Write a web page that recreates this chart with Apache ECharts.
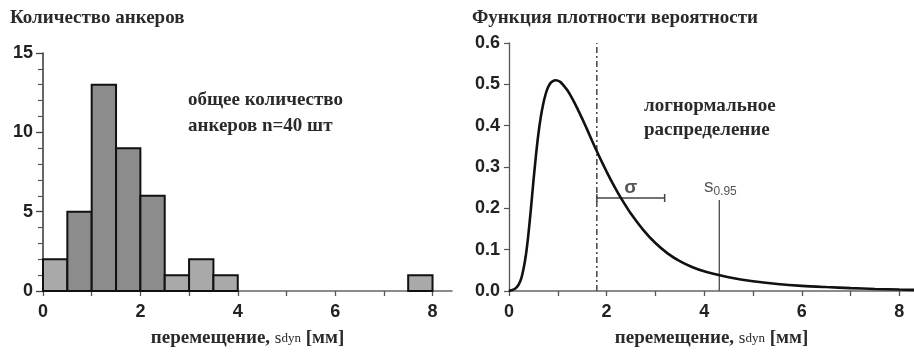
<!DOCTYPE html>
<html><head><meta charset="utf-8">
<script src="https://cdn.jsdelivr.net/npm/echarts@6/dist/echarts.min.js"></script>
<style>html,body{margin:0;padding:0;background:#fff}#c{width:914px;height:353px}</style>
</head><body><div id="c"></div>
<script>
// Histogram (left)
const binStart = [0, 0.5, 1, 1.5, 2, 2.5, 3, 3.5, 7.5];
const binEnd   = [0.5, 1, 1.5, 2, 2.5, 3, 3.5, 4, 8];
const counts   = [2, 5, 13, 9, 6, 1, 2, 1, 1];
const histXLabels = [0, 2, 4, 6, 8];
const histXTicks  = [0, 1, 2, 3, 4, 5, 6, 7, 8];

// Probability density (right)
const curveX = [0, 0.05, 0.1, 0.15, 0.2, 0.25, 0.3, 0.35, 0.4, 0.45, 0.5, 0.55, 0.6, 0.65, 0.7, 0.75, 0.8, 0.85, 0.9, 0.95, 1.0, 1.05, 1.1, 1.2, 1.3, 1.4, 1.5, 1.6, 1.7, 1.8, 1.9, 2.0, 2.1, 2.25, 2.4, 2.5, 2.75, 3.0, 3.25, 3.5, 3.75, 4.0, 4.3, 4.5, 4.75, 5.0, 5.5, 6.0, 6.5, 7.0, 7.5, 8.0, 8.3];
const curveY = [0, 0.002, 0.004, 0.008, 0.016, 0.03, 0.055, 0.09, 0.14, 0.2, 0.265, 0.325, 0.378, 0.42, 0.452, 0.476, 0.493, 0.503, 0.508, 0.51, 0.509, 0.506, 0.5, 0.485, 0.465, 0.442, 0.417, 0.391, 0.364, 0.338, 0.313, 0.289, 0.266, 0.234, 0.205, 0.187, 0.148, 0.116, 0.091, 0.072, 0.058, 0.0475, 0.0385, 0.0335, 0.028, 0.0235, 0.017, 0.0125, 0.0095, 0.007, 0.005, 0.0035, 0.0028];
const meanX = 1.8;
const meanTop = 0.6;
const sigmaStart = 1.8, sigmaEnd = 3.19, sigmaY = 0.225;
const s95X = 4.31, s95Top = 0.22;
const pdfXLabels = [0, 2, 4, 6, 8];
const pdfXTicks  = [0, 1, 2, 3, 4, 5, 6, 7, 8];

const serif = '"Liberation Serif", "DejaVu Serif", serif';
const sans = '"Liberation Sans", Arial, sans-serif';
const txt = '#2a2a2a';

const chart = echarts.init(document.getElementById('c'), null, {renderer: 'canvas'});

function xAxisCfg(grid, max, labels, ticks) {
  return {
    type: 'value', gridIndex: grid, min: 0, max: max,
    name: '{a|перемещение, }{s|s}{d|dyn}{a| [мм]}',
    nameLocation: 'middle', nameGap: 38,
    nameTextStyle: {rich: {
      a: {fontFamily: serif, fontSize: 19, fontWeight: 'bold', color: txt},
      s: {fontFamily: serif, fontSize: 17, color: txt},
      d: {fontFamily: serif, fontSize: 13, color: txt}
    }},
    axisLine: {show: true, onZero: false, lineStyle: {color: '#666', width: 1.5}},
    axisTick: {show: true, customValues: ticks, length: 5, lineStyle: {color: '#555', width: 1.3}},
    axisLabel: {customValues: labels, margin: 12, fontFamily: sans, fontSize: 18, fontWeight: 'bold', color: '#222'},
    splitLine: {show: false}
  };
}

chart.setOption({
  animation: false,
  backgroundColor: '#fff',
  grid: [
    {left: 43, top: 53, width: 409, height: 239},
    {left: 509, top: 43, width: 405, height: 250}
  ],
  xAxis: [
    xAxisCfg(0, 8.4, histXLabels, histXTicks),
    xAxisCfg(1, 8.3, pdfXLabels, pdfXTicks)
  ],
  yAxis: [
    {
      type: 'value', gridIndex: 0, min: 0, max: 15, interval: 5,
      axisLine: {show: true, lineStyle: {color: '#333', width: 1.5}},
      axisTick: {show: true, length: 7, lineStyle: {color: '#444', width: 1.3}},
      minorTick: {show: true, splitNumber: 5, length: 5, lineStyle: {color: '#555', width: 1.2}},
      axisLabel: {margin: 10, fontFamily: sans, fontSize: 18, fontWeight: 'bold', color: '#222'},
      splitLine: {show: false}
    },
    {
      type: 'value', gridIndex: 1, min: 0, max: 0.6, interval: 0.1,
      axisLine: {show: true, lineStyle: {color: '#555', width: 1.3}},
      axisTick: {show: true, length: 5, lineStyle: {color: '#555', width: 1.2}},
      axisLabel: {margin: 9, fontFamily: sans, fontSize: 18, fontWeight: 'bold', color: '#222',
        formatter: v => v.toFixed(1)},
      splitLine: {show: false}
    }
  ],
  series: [
    {
      type: 'custom', xAxisIndex: 0, yAxisIndex: 0,
      data: binStart.map((s, i) => [s, binEnd[i], counts[i]]),
      encode: {x: [0, 1], y: 2},
      renderItem: function (params, api) {
        const p0 = api.coord([api.value(0), api.value(2)]);
        const p1 = api.coord([api.value(1), 0]);
        const dark = api.value(2) >= 5;
        return {
          type: 'rect',
          shape: {x: p0[0], y: p0[1], width: p1[0] - p0[0], height: p1[1] - p0[1]},
          style: {fill: dark ? '#8c8c8c' : '#a9a9a9', stroke: '#111', lineWidth: 2}
        };
      },
      z: 3
    },
    {
      type: 'line', xAxisIndex: 1, yAxisIndex: 1,
      data: curveX.map((x, i) => [x, curveY[i]]),
      smooth: 0.3, showSymbol: false, symbol: 'none',
      lineStyle: {color: '#111', width: 2.6}, z: 5
    },
    {
      type: 'line', xAxisIndex: 1, yAxisIndex: 1,
      data: [[meanX, 0], [meanX, meanTop]],
      symbol: 'none',
      lineStyle: {color: '#444', width: 1.5, type: [6, 3, 2, 3]}, z: 4
    },
    {
      type: 'line', xAxisIndex: 1, yAxisIndex: 1,
      data: [[sigmaStart, sigmaY], [sigmaEnd, sigmaY]],
      symbol: 'rect', symbolSize: [1.5, 8], showSymbol: true,
      itemStyle: {color: '#444'},
      lineStyle: {color: '#444', width: 1.5}, z: 4
    },
    {
      type: 'line', xAxisIndex: 1, yAxisIndex: 1,
      data: [[s95X, 0], [s95X, s95Top]],
      symbol: 'none',
      lineStyle: {color: '#555', width: 1.4}, z: 4
    },
    {
      type: 'scatter', xAxisIndex: 1, yAxisIndex: 1,
      data: [[(sigmaStart + sigmaEnd) / 2, sigmaY]],
      symbolSize: 0,
      label: {show: true, position: 'top', distance: 1, formatter: 'σ',
        fontFamily: sans, fontSize: 19, fontWeight: 'bold', color: txt}
    },
    {
      type: 'scatter', xAxisIndex: 1, yAxisIndex: 1,
      data: [[s95X, s95Top]],
      symbolSize: 0,
      label: {show: true, position: 'top', distance: 2, offset: [1, 0],
        formatter: '{s|s}{d|0.95}',
        rich: {
          s: {fontFamily: sans, fontSize: 19, color: txt},
          d: {fontFamily: sans, fontSize: 12, color: txt, padding: [10, 0, 0, 0]}
        }}
    }
  ],
  graphic: [
    {type: 'text', left: 10, top: 9, style: {text: 'Количество анкеров', font: 'bold 19px ' + serif, fill: txt}},
    {type: 'text', left: 472, top: 9, style: {text: 'Функция плотности вероятности', font: 'bold 19px ' + serif, fill: txt}},
    {type: 'text', left: 188, top: 87, style: {text: 'общее количество\nанкеров n=40 шт', font: 'bold 19px ' + serif, fill: txt, lineHeight: 26}},
    {type: 'text', left: 644, top: 94, style: {text: 'логнормальное\nраспределение', font: 'bold 19px ' + serif, fill: txt, lineHeight: 24}}
  ]
});
</script>
</body></html>
